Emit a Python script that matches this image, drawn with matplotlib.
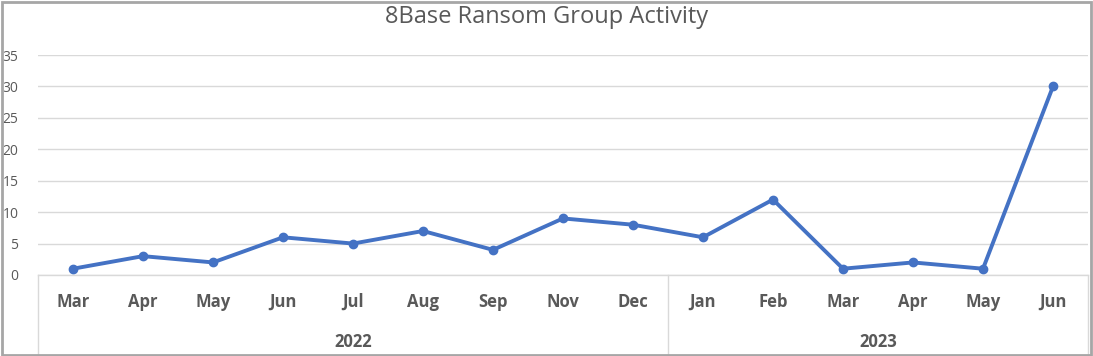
import matplotlib.pyplot as plt
from matplotlib.patches import Rectangle
import matplotlib.transforms as mtransforms

# Datos del grafico
months = ['Mar', 'Apr', 'May', 'Jun', 'Jul', 'Aug', 'Sep', 'Nov', 'Dec',
          'Jan', 'Feb', 'Mar', 'Apr', 'May', 'Jun']
years = ['2022', '2023']
year_counts = [9, 6]
values = [1, 3, 2, 6, 5, 7, 4, 9, 8, 6, 12, 1, 2, 1, 30]

text_color = '#595959'
grid_color = '#D9D9D9'
line_color = '#4472C4'

plt.rcParams['font.family'] = ['Open Sans', 'DejaVu Sans']

fig = plt.figure(figsize=(10.93, 3.56), dpi=100)
ax = fig.add_axes([38 / 1093, 81 / 356, 1050 / 1093, 220 / 356])

x = list(range(len(values)))
ax.plot(x, values, color=line_color, linewidth=2.8, marker='o', markersize=6,
        solid_joinstyle='round', zorder=3, clip_on=False)

ax.set_xlim(-0.5, len(values) - 0.5)
ax.set_ylim(0, 35)
ax.set_yticks(range(0, 36, 5))
ax.yaxis.grid(True, color=grid_color, linewidth=1)
ax.set_axisbelow(True)
for s in ax.spines.values():
    s.set_visible(False)
ax.tick_params(axis='y', length=0, labelsize=10, labelcolor=text_color, pad=14)

# Etiquetas de meses
ax.set_xticks(x)
ax.set_xticklabels(months, fontsize=12, fontweight='bold', color=text_color)
ax.tick_params(axis='x', length=0, pad=13)

# Cajas de categorias (meses / años)
trans = mtransforms.blended_transform_factory(ax.transData, ax.transAxes)
bottom = -79 / 220
ax.plot([-0.5, len(values) - 0.5], [0, 0], transform=trans, color=grid_color,
        linewidth=1, clip_on=False, zorder=1)
bounds = [-0.5]
for c in year_counts:
    bounds.append(bounds[-1] + c)
for b in bounds:
    ax.plot([b, b], [0, bottom], transform=trans, color=grid_color,
            linewidth=1, clip_on=False)
for i, yr in enumerate(years):
    mid = (bounds[i] + bounds[i + 1]) / 2
    ax.text(mid, -67 / 220, yr, transform=trans, ha='center', va='center',
            fontsize=12, fontweight='bold', color=text_color)

fig.suptitle('8Base Ransom Group Activity', fontsize=17, color=text_color,
             y=1 - 17 / 356, va='center')

# Borde exterior
fig.patches.append(Rectangle((1.5 / 1093, 1 / 356), 1089 / 1093, 353 / 356,
                             transform=fig.transFigure, fill=False,
                             edgecolor='#A6A6A6', linewidth=2))

fig.savefig('out.png', dpi=100)
